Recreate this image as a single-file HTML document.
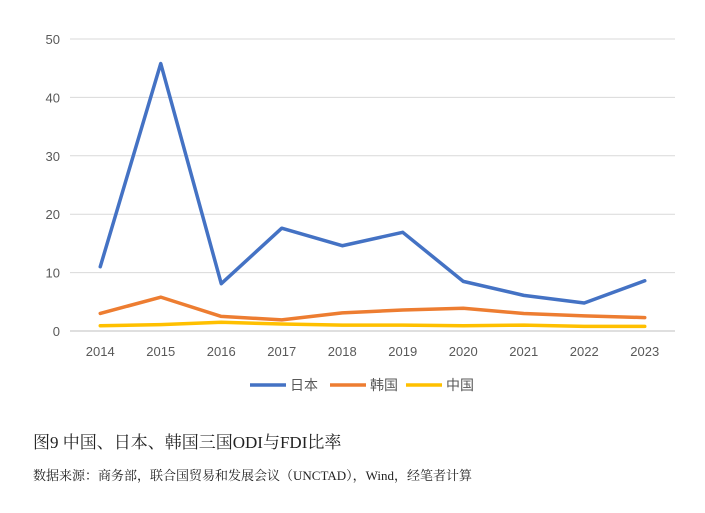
<!DOCTYPE html>
<html><head><meta charset="utf-8"><style>
body{margin:0;background:#fff;width:705px;height:513px;overflow:hidden;font-family:"Liberation Sans","Noto Sans CJK SC",sans-serif}
.cap{position:absolute;left:33px;top:428px;font-size:17px;color:#222;font-family:"Liberation Serif","Noto Serif CJK SC",serif}
.src{position:absolute;left:33px;top:465px;font-size:13px;color:#222;font-family:"Liberation Serif","Noto Serif CJK SC",serif}
</style></head><body>
<svg id="chart" width="705" height="420" style="position:absolute;left:0;top:0"></svg>
<div class="cap">图9 中国、日本、韩国三国ODI与FDI比率</div>
<div class="src">数据来源：商务部，联合国贸易和发展会议（UNCTAD），Wind，经笔者计算</div>
<script>
const years=["2014","2015","2016","2017","2018","2019","2020","2021","2022","2023"];
const japan=[11.0,45.8,8.1,17.6,14.6,16.9,8.5,6.1,4.8,8.6];
const korea=[3.0,5.8,2.5,1.9,3.1,3.6,3.9,3.0,2.6,2.3];
const china=[0.9,1.1,1.5,1.2,1.0,1.0,0.9,1.0,0.8,0.8];
const yTicks=[0,10,20,30,40,50];
const seriesNames=["日本","韩国","中国"];
const colors=["#4472C4","#ED7D31","#FFC000"];
const svg=document.getElementById('chart');const NS='http://www.w3.org/2000/svg';
const x0=70,x1=675,y0=331,y1=39;
const yS=v=>y0-(v/50)*(y0-y1);
const step=(x1-x0)/years.length;
const xS=i=>x0+step*(i+0.5);
function mk(t,a){const e=document.createElementNS(NS,t);for(const k in a)e.setAttribute(k,a[k]);svg.appendChild(e);return e;}
yTicks.forEach(v=>{
 const l=mk('line',{x1:x0,x2:x1,y1:yS(v),y2:yS(v),stroke:v===0?'#bfbfbf':'#d9d9d9','stroke-width':1});
 
 
 const t=mk('text',{x:60,y:yS(v)+5,'text-anchor':'end','font-size':13,fill:'#595959'});t.textContent=v;
 
 
});
years.forEach((y,i)=>{
 const t=mk('text',{x:xS(i),y:356,'text-anchor':'middle','font-size':13,fill:'#595959'});t.textContent=y;
 
 
});
[japan,korea,china].forEach((d,s)=>{
 const p=mk('polyline',{points:d.map((v,i)=>xS(i)+','+yS(v)).join(' '),fill:'none',stroke:colors[s],'stroke-width':3.5,'stroke-linejoin':'round','stroke-linecap':'round'});
 
 
});
const lx=[250,330,406];
seriesNames.forEach((n,s)=>{
 const l=mk('line',{x1:lx[s],x2:lx[s]+36,y1:385,y2:385,stroke:colors[s],'stroke-width':3.5});
 
 
 const t=mk('text',{x:lx[s]+40,y:390,'font-size':14,fill:'#595959'});t.textContent=n;
 
 
});
</script>
</body></html>
